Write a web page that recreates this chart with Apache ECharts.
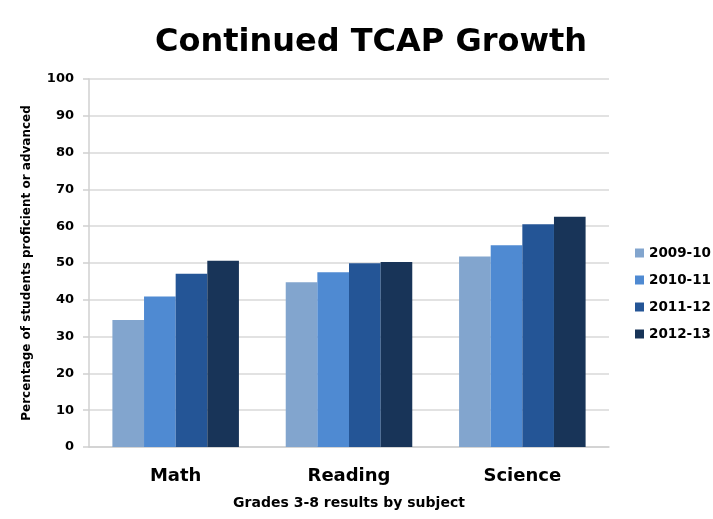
<!DOCTYPE html>
<html>
<head>
<meta charset="utf-8">
<script src="https://cdn.jsdelivr.net/npm/echarts@6/dist/echarts.min.js"></script>
<style>html,body{margin:0;padding:0;background:#fff}#c{width:713px;height:519px}</style>
</head>
<body>
<div id="c"></div>
<script>
var categories = ['Math', 'Reading', 'Science'];
var seriesNames = ['2009-10', '2010-11', '2011-12', '2012-13'];
var v2009 = [34.5, 44.8, 51.8];
var v2010 = [40.9, 47.5, 54.8];
var v2011 = [47.1, 49.9, 60.5];
var v2012 = [50.6, 50.3, 62.6];
var colors = ['#82a5ce', '#4f8ad2', '#245596', '#183458'];

var chart = echarts.init(document.getElementById('c'));
var F = 'DejaVu Sans';
var dataSets = [v2009, v2010, v2011, v2012];
chart.setOption({
  animation: false,
  title: {
    text: 'Continued TCAP Growth',
    left: 366, top: 22, textAlign: 'center',
    textStyle: {fontFamily: F, fontWeight: 'bold', fontSize: 32, color: '#000'}
  },
  legend: {
    orient: 'vertical', left: 635, top: 246, padding: 0,
    itemWidth: 9, itemHeight: 9, itemGap: 13, icon: 'rect',
    textStyle: {fontFamily: F, fontWeight: 'bold', fontSize: 13.5, color: '#000'},
    data: seriesNames
  },
  grid: {left: 89, right: 104, top: 79, bottom: 72, containLabel: false},
  xAxis: {
    type: 'category', data: categories,
    name: 'Grades 3-8 results by subject', nameLocation: 'middle', nameGap: 49,
    nameTextStyle: {fontFamily: F, fontWeight: 'bold', fontSize: 14, color: '#000'},
    axisLine: {lineStyle: {color: '#d0d0d0', width: 1.5}},
    axisTick: {show: false},
    axisLabel: {fontFamily: F, fontWeight: 'bold', fontSize: 18, color: '#000', margin: 20}
  },
  yAxis: {
    type: 'value', min: 0, max: 100, interval: 10,
    name: 'Percentage of students proficient or advanced', nameLocation: 'middle', nameGap: 56,
    nameTextStyle: {fontFamily: F, fontWeight: 'bold', fontSize: 12, color: '#000'},
    axisLine: {show: true, lineStyle: {color: '#d0d0d0', width: 1.5}},
    axisTick: {show: true, length: 6, lineStyle: {color: '#d0d0d0', width: 1.5}},
    splitLine: {lineStyle: {color: '#d9d9d9', width: 1.5}},
    axisLabel: {fontFamily: F, fontWeight: 'bold', fontSize: 13, color: '#000', margin: 15}
  },
  series: seriesNames.map(function (n, i) {
    return {
      name: n, type: 'bar', data: dataSets[i],
      barGap: '0%', barCategoryGap: '27%',
      itemStyle: {color: colors[i]}
    };
  })
});
</script>
</body>
</html>
